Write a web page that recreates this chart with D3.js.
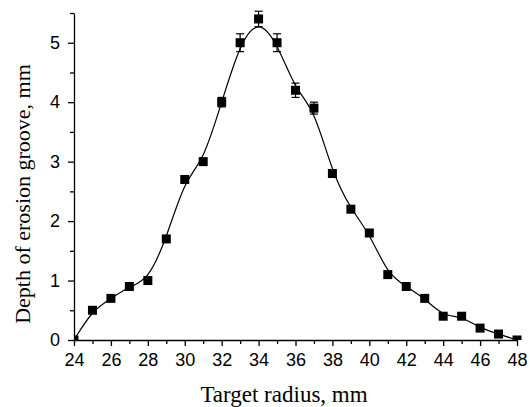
<!DOCTYPE html>
<html>
<head>
<meta charset="utf-8">
<script src="https://cdn.jsdelivr.net/npm/d3@7"></script>
<style>
  body { margin: 0; background: #fff; }
</style>
</head>
<body>
<svg id="chart" width="530" height="407"></svg>
<script>
  // Measured depth vs target radius
  var radius = [24, 25, 26, 27, 28, 29, 30, 31, 32, 33, 34, 35, 36, 37, 38, 39, 40, 41, 42, 43, 44, 45, 46, 47, 48];
  var depth = [0, 0.5, 0.7, 0.9, 1.0, 1.7, 2.7, 3.0, 4.0, 5.0, 5.4, 5.0, 4.2, 3.9, 2.8, 2.2, 1.8, 1.1, 0.9, 0.7, 0.4, 0.4, 0.2, 0.1, 0.0];
  var errors = [0, 0, 0, 0, 0, 0, 0, 0, 0.08, 0.15, 0.13, 0.15, 0.12, 0.1, 0, 0, 0, 0, 0, 0, 0, 0, 0, 0, 0];
  var xTicks = [24, 26, 28, 30, 32, 34, 36, 38, 40, 42, 44, 46, 48];
  var yTicks = [0, 1, 2, 3, 4, 5];

  var points = radius.map(function (r, i) {
    return { x: r, y: depth[i], err: errors[i] };
  });

  var margin = { left: 74, top: 13, right: 13, bottom: 67 };
  var width = 530 - margin.left - margin.right;
  var height = 407 - margin.top - margin.bottom;

  var svg = d3.select('#chart');
  var g = svg.append('g').attr('transform', 'translate(' + margin.left + ',' + margin.top + ')');

  var x = d3.scaleLinear().domain([24, 48]).range([0, width]);
  var y = d3.scaleLinear().domain([0, 5.5]).range([height, 0]);

  // minor ticks first, without labels
  g.append('g')
    .attr('transform', 'translate(0,' + height + ')')
    .call(d3.axisBottom(x).tickValues(d3.range(25, 48, 2)).tickSize(4).tickFormat(''))
    .call(function (s) { s.select('.domain').remove(); });
  g.append('g')
    .call(d3.axisLeft(y).tickValues(d3.range(0.5, 5.6, 1)).tickSize(4).tickFormat(''))
    .call(function (s) { s.select('.domain').remove(); });

  g.append('g')
    .attr('transform', 'translate(0,' + height + ')')
    .call(d3.axisBottom(x).tickValues(xTicks).tickSize(6).tickSizeOuter(0).tickPadding(7));
  g.append('g')
    .call(d3.axisLeft(y).tickValues(yTicks).tickFormat(d3.format('d')).tickSize(6).tickSizeOuter(0).tickPadding(8));

  g.selectAll('.domain, .tick line').attr('stroke', '#000').attr('stroke-width', 1.3);
  g.selectAll('.tick text')
    .attr('font-family', '"Liberation Sans", Arial, sans-serif')
    .attr('font-size', 18)
    .attr('fill', '#000');

  g.append('clipPath').attr('id', 'plotclip')
    .append('rect').attr('x', 0).attr('y', -10).attr('width', width + 13).attr('height', height + 10);

  var plot = g.append('g').attr('clip-path', 'url(#plotclip)');

  var line = d3.line()
    .x(function (d) { return x(d.x); })
    .y(function (d) { return y(d.y); })
    .curve(d3.curveBasis);

  plot.append('path')
    .datum(points)
    .attr('d', line)
    .attr('fill', 'none')
    .attr('stroke', '#000')
    .attr('stroke-width', 1.2);

  // error bars
  var withErr = points.filter(function (d) { return d.err > 0; });
  var eb = plot.selectAll('g.err').data(withErr).enter().append('g').attr('class', 'err');
  eb.append('line')
    .attr('x1', function (d) { return x(d.x); })
    .attr('x2', function (d) { return x(d.x); })
    .attr('y1', function (d) { return y(d.y - d.err); })
    .attr('y2', function (d) { return y(d.y + d.err); })
    .attr('stroke', '#000').attr('stroke-width', 1.2);
  [-1, 1].forEach(function (sign) {
    eb.append('line')
      .attr('x1', function (d) { return x(d.x) - 4; })
      .attr('x2', function (d) { return x(d.x) + 4; })
      .attr('y1', function (d) { return y(d.y + sign * d.err); })
      .attr('y2', function (d) { return y(d.y + sign * d.err); })
      .attr('stroke', '#000').attr('stroke-width', 1.2);
  });

  var s = 9;
  plot.selectAll('rect.pt').data(points).enter().append('rect')
    .attr('class', 'pt')
    .attr('x', function (d) { return x(d.x) - s / 2; })
    .attr('y', function (d) { return y(d.y) - s / 2; })
    .attr('width', s)
    .attr('height', s)
    .attr('fill', '#000');

  svg.append('text')
    .attr('x', 284)
    .attr('y', 402)
    .attr('text-anchor', 'middle')
    .attr('font-family', '"Liberation Serif", "Times New Roman", serif')
    .attr('font-size', 23)
    .text('Target radius, mm');

  svg.append('text')
    .attr('transform', 'translate(30,194) rotate(-90)')
    .attr('text-anchor', 'middle')
    .attr('font-family', '"Liberation Serif", "Times New Roman", serif')
    .attr('font-size', 22)
    .text('Depth of erosion groove, mm');
</script>
</body>
</html>
